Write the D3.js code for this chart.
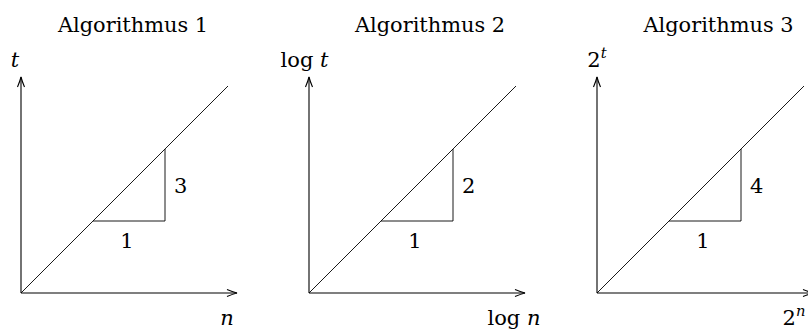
<html>
<head>
<meta charset="utf-8">
<script src="https://d3js.org/d3.v7.min.js"></script>
<style>
  body { margin: 0; background: #fff; }
  svg { display: block; }
  text { font-family: "DejaVu Serif", serif; fill: #000; }
  .it { font-style: italic; }
  .ax { stroke: #000; stroke-width: 1.1; fill: none; }
  .ln { stroke: #000; stroke-width: 0.9; fill: none; }
</style>
</head>
<body>
<svg id="chart" width="808" height="329"></svg>
<script>
// data
var titles = ["Algorithmus 1", "Algorithmus 2", "Algorithmus 3"];
// axis labels as token lists: [text, italic, superscript]
var yLabels = [
  [["t", true, false]],
  [["log ", false, false], ["t", true, false]],
  [["2", false, false], ["t", true, true]]
];
var xLabels = [
  [["n", true, false]],
  [["log ", false, false], ["n", true, false]],
  [["2", false, false], ["n", true, true]]
];
var riseLabels = ["3", "2", "4"];
var runLabels = ["1", "1", "1"];
var lineData = [[0, 0], [2.875, 2.875]];
var triangleData = [[1, 1], [2, 1], [2, 2]];
var axisMax = 3;

// layout
var panelX = [21, 309, 597];
var originY = 293, axisLen = 216;
var titleDx = [112, 121, 121.5];
var xLabelDx = [-10, -11, -19];
var yLabelDx = [-6, -4.5, 0];

var svg = d3.select("#chart");

function addLabel(g, tokens, x, y, size, anchor) {
  var t = g.append("text")
    .attr("x", x).attr("y", y)
    .attr("text-anchor", anchor)
    .style("font-size", size + "px");
  tokens.forEach(function (tk) {
    var sp = t.append("tspan").text(tk[0]).attr("class", tk[1] ? "it" : null);
    if (tk[2]) sp.attr("dy", -9).style("font-size", (size * 0.7) + "px");
  });
  return t;
}

titles.forEach(function (title, i) {
  var ox = panelX[i];
  var x = d3.scaleLinear().domain([0, axisMax]).range([ox, ox + axisLen]);
  var y = d3.scaleLinear().domain([0, axisMax]).range([originY, originY - axisLen]);
  var g = svg.append("g");

  // axes
  g.append("line").attr("class", "ax")
    .attr("x1", x(0)).attr("y1", y(0)).attr("x2", x(axisMax)).attr("y2", y(0));
  g.append("line").attr("class", "ax")
    .attr("x1", x(0)).attr("y1", y(0)).attr("x2", x(0)).attr("y2", y(axisMax));

  // arrow heads (latex style)
  var tx = x(axisMax), ty = y(0);
  g.append("path").attr("class", "ax")
    .attr("d", "M" + (tx - 10) + "," + (ty - 3.5) + " Q" + (tx - 4) + "," + (ty - 1) + " " + tx + "," + ty +
               " Q" + (tx - 4) + "," + (ty + 1) + " " + (tx - 10) + "," + (ty + 3.5));
  var vx = x(0), vy = y(axisMax);
  g.append("path").attr("class", "ax")
    .attr("d", "M" + (vx - 3.5) + "," + (vy + 10) + " Q" + (vx - 1) + "," + (vy + 4) + " " + vx + "," + vy +
               " Q" + (vx + 1) + "," + (vy + 4) + " " + (vx + 3.5) + "," + (vy + 10));

  // diagonal
  var line = d3.line().x(function (d) { return x(d[0]); }).y(function (d) { return y(d[1]); });
  g.append("path").attr("class", "ln").attr("d", line(lineData));

  // slope triangle
  g.append("path").attr("class", "ln").attr("d", line(triangleData));

  g.append("text")
    .attr("x", x(2) + 9).attr("y", y(1.5) + 8)
    .style("font-size", "21px")
    .text(riseLabels[i]);
  g.append("text")
    .attr("x", x(1.5) - 2).attr("y", y(1) + 27)
    .attr("text-anchor", "middle")
    .style("font-size", "21px")
    .text(runLabels[i]);

  // title and axis labels
  g.append("text")
    .attr("x", ox + titleDx[i]).attr("y", 32)
    .attr("text-anchor", "middle")
    .style("font-size", "21px")
    .attr("textLength", 150)
    .attr("lengthAdjust", "spacingAndGlyphs")
    .text(title);
  addLabel(g, yLabels[i], x(0) + yLabelDx[i], 67, 21, "middle");
  addLabel(g, xLabels[i], x(axisMax) + xLabelDx[i], 325, 21, "middle");
});
</script>
</body>
</html>
